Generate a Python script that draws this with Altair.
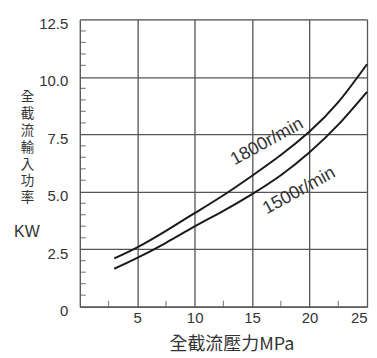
import altair as alt
import pandas as pd

# ---- data ----
pressure = [3, 5, 7.5, 10, 12.5, 15, 17.5, 20, 22.5, 25]
power_1800 = [2.10, 2.58, 3.30, 4.07, 4.85, 5.70, 6.60, 7.62, 8.90, 10.55]
power_1500 = [1.65, 2.12, 2.78, 3.49, 4.17, 4.90, 5.72, 6.72, 7.92, 9.35]
series_names = ["1800r/min", "1500r/min"]

x_ticks = [5, 10, 15, 20, 25]
y_ticks = [0, 2.5, 5, 7.5, 10, 12.5]
x_minor = [2.5, 7.5, 12.5, 17.5, 22.5]
y_minor = [0.5, 1, 1.5, 2, 3, 3.5, 4, 4.5, 5.5, 6, 6.5, 7, 8, 8.5, 9, 9.5,
           10.5, 11, 11.5, 12]

label_x = [16.3, 19.1]
label_y = [7.17, 5.04]

x_title = "全截流壓力MPa"
y_title = ["全", "截", "流", "輸", "入", "功", "率"]
y_unit = ["KW"]

# ---- tables ----
rows = []
for name, vals in zip(series_names, [power_1800, power_1500]):
    for p, v in zip(pressure, vals):
        rows.append({"p": p, "kw": v, "s": name})
curves = pd.DataFrame(rows)
labels = pd.DataFrame({"p": label_x, "kw": label_y, "s": series_names})
xm = pd.DataFrame({"p": x_minor})
ym = pd.DataFrame({"kw": y_minor})
unit = pd.DataFrame({"t": y_unit})

xscale = alt.Scale(domain=[0, 25], nice=False, zero=False)
yscale = alt.Scale(domain=[0, 12.5], nice=False, zero=False)

GRID = "#555555"
TXT = "#333333"
LATIN = "Liberation Sans"
CJK = "Noto Sans CJK TC"

x_axis = alt.Axis(
    values=x_ticks, grid=True, gridColor=GRID, gridWidth=1.3, gridOpacity=1,
    domainColor=GRID, domainWidth=1.3, ticks=False,
    labelFont=LATIN, labelFontSize=15, labelColor=TXT, labelPadding=4,
    title=x_title, titleFont=CJK, titleFontSize=18, titleFontWeight="normal",
    titleColor=TXT, titleX=152, titleY=43, titleBaseline="alphabetic",
    titleAlign="center",
)
y_axis = alt.Axis(
    values=y_ticks, grid=True, gridColor=GRID, gridWidth=1.3, gridOpacity=1,
    domainColor=GRID, domainWidth=1.3, ticks=False,
    labelFont=LATIN, labelFontSize=15, labelColor=TXT, labelPadding=12,
    labelExpr="datum.value == 0 ? '0' : format(datum.value, '.1f')",
    labelOffset=4,
    title=y_title, titleFont=CJK, titleFontSize=13.5, titleFontWeight="normal",
    titleColor=TXT, titleAngle=0, titleAlign="center", titleBaseline="top",
    titleX=-53, titleY=70, titleLineHeight=17,
)

X = alt.X("p:Q", scale=xscale, axis=x_axis)
Y = alt.Y("kw:Q", scale=yscale, axis=y_axis)

lines = alt.Chart(curves).mark_line(
    color="#1a1a1a", strokeWidth=2, interpolate="natural"
).encode(x=X, y=Y, detail="s:N")

xminor = alt.Chart(xm).mark_tick(
    color=GRID, thickness=1.2, size=6, orient="vertical"
).encode(x=X, y=alt.value(285))

yminor = alt.Chart(ym).mark_tick(
    color=GRID, thickness=1.2, size=6, orient="horizontal"
).encode(y=Y, x=alt.value(3))

texts = alt.Chart(labels).mark_text(
    angle=331, font=LATIN, fontSize=18, color=TXT
).encode(x=X, y=Y, text="s:N")

unit_text = alt.Chart(unit).mark_text(
    font=LATIN, fontSize=16, color=TXT, align="center", baseline="middle"
).encode(x=alt.value(-53), y=alt.value(213), text="t:N")

chart = alt.layer(lines, xminor, yminor, texts, unit_text).properties(
    width=288, height=288,
    autosize=alt.AutoSizeParams(type="none"),
    padding={"left": 72, "top": 11, "right": 2, "bottom": 51},
).configure_view(stroke=None).configure(background="white")

chart.save("out.html", embed_options={"renderer": "svg", "actions": False})
